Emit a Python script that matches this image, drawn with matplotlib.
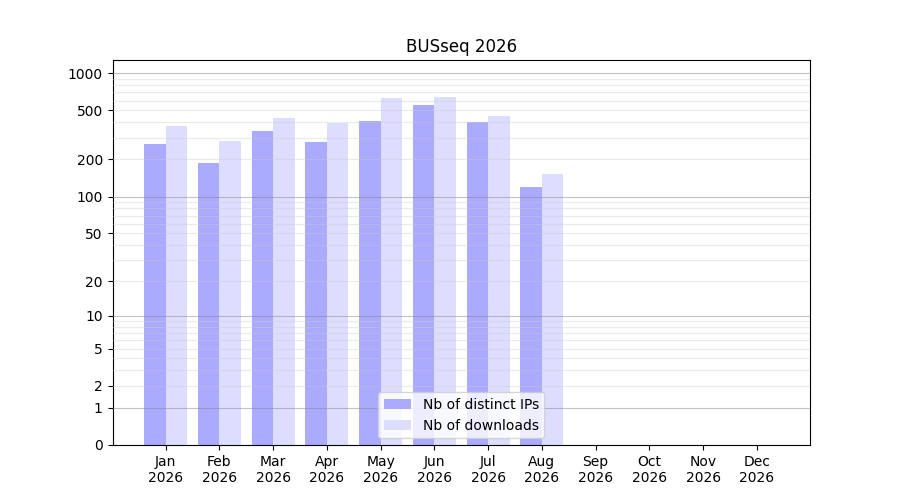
import numpy as np
import matplotlib
matplotlib.use('Agg')
import matplotlib.pyplot as plt

# data
months = ['Jan', 'Feb', 'Mar', 'Apr', 'May', 'Jun', 'Jul', 'Aug', 'Sep', 'Oct', 'Nov', 'Dec']
year = 2026
nb_ips = [268, 188, 341, 278, 411, 553, 403, 119, 0, 0, 0, 0]
nb_downloads = [374, 283, 434, 396, 631, 643, 450, 152, 0, 0, 0, 0]

x = np.arange(1, len(months) + 1)

fig, ax = plt.subplots(figsize=(9, 5), dpi=100)

ax.set_yscale('function', functions=(lambda v: np.log10(1 + np.maximum(v, 0)),
                                     lambda v: 10 ** v - 1))

ax.bar(x - 0.2, nb_ips, width=0.4, color='#aaaaff', label='Nb of distinct IPs')
ax.bar(x + 0.2, nb_downloads, width=0.4, color='#ddddff', label='Nb of downloads')

# grid lines (drawn over the bars)
for v in [1, 10, 100, 1000]:
    ax.axhline(v, color='#888888', lw=0.8, alpha=0.5, zorder=3)
for dec in [1, 10, 100, 1000]:
    for m in range(2, 10):
        v = dec * m
        if v < 1300:
            ax.axhline(v, color='#cccccc', lw=0.8, alpha=0.4, zorder=3)

yt = [0, 1, 2, 5, 10, 20, 50, 100, 200, 500, 1000]
ax.set_yticks(yt)
ax.set_yticklabels([str(t) for t in yt])
ax.minorticks_off()
ax.set_ylim(0, 1275)

ax.set_xticks(x)
ax.set_xticklabels([f'{m}\n{year}' for m in months])
ax.set_xlim(0.01, 12.99)

ax.set_title('BUSseq 2026')
ax.legend(loc='lower center')

fig.savefig('out.png')
